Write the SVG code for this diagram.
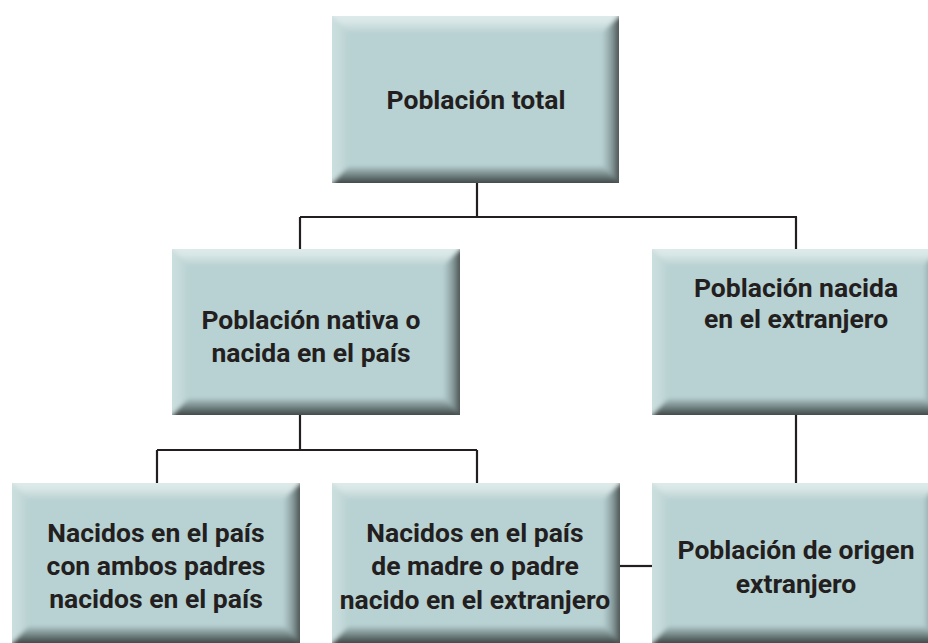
<svg xmlns="http://www.w3.org/2000/svg" width="928" height="643" viewBox="0 0 928 643">
<defs>
<linearGradient id="gT" x1="0" y1="0" x2="0" y2="1"><stop offset="0" stop-color="#e2eded"/><stop offset="0.5" stop-color="#d9e7e7"/><stop offset="1" stop-color="#bcd3d4"/></linearGradient>
<linearGradient id="gL" x1="0" y1="0" x2="1" y2="0"><stop offset="0" stop-color="#d0e1e1"/><stop offset="0.5" stop-color="#c8dcdc"/><stop offset="1" stop-color="#bad2d3"/></linearGradient>
<linearGradient id="gR" x1="0" y1="0" x2="1" y2="0"><stop offset="0" stop-color="#b4cdce"/><stop offset="0.4" stop-color="#8a9e9f"/><stop offset="0.76" stop-color="#4b5353"/><stop offset="1" stop-color="#4b5353"/></linearGradient>
<linearGradient id="gB" x1="0" y1="0" x2="0" y2="1"><stop offset="0" stop-color="#a9c0c1"/><stop offset="0.4" stop-color="#718282"/><stop offset="0.76" stop-color="#3f4545"/><stop offset="1" stop-color="#3f4545"/></linearGradient>
<filter id="soft" x="-5%" y="-5%" width="110%" height="110%"><feGaussianBlur stdDeviation="2.2"/></filter>
<clipPath id="c1"><rect x="332" y="16" width="287" height="167"/></clipPath>
<clipPath id="c2"><rect x="172" y="249" width="288" height="166"/></clipPath>
<clipPath id="c3"><rect x="652" y="249" width="288" height="166"/></clipPath>
<clipPath id="c4"><rect x="12" y="483" width="288" height="160"/></clipPath>
<clipPath id="c5"><rect x="332" y="483" width="288" height="160"/></clipPath>
<clipPath id="c6"><rect x="652" y="483" width="288" height="160"/></clipPath>
</defs>
<style>
.face{fill:#b8d1d2}
.bev{filter:url(#soft)}
.bt{fill:url(#gT)}
.bl{fill:url(#gL)}
.br{fill:url(#gR)}
.bb{fill:url(#gB)}
.lbl{font-family:Roboto,"Liberation Sans",sans-serif;font-weight:bold;font-size:26.5px;fill:#231f20;text-anchor:middle}
.con{stroke:#231f20;stroke-width:2.2;fill:none}
</style>
<rect width="928" height="643" fill="#ffffff"/>
<g id="connectors">
<path class="con" d="M477,183 V217 M300,217 H797 M300,217 V249 M796,217 V249"/>
<path class="con" d="M300,415 V450 M157,450 H477 M157,450 V483 M477,450 V483"/>
<path class="con" d="M796,415 V483"/>
<path class="con" d="M620,566 H652"/>
</g>
<g id="n-total">
<g clip-path="url(#c1)">
<rect class="face" x="332" y="16" width="287" height="167"/>
<g class="bev">
<polygon class="bt" points="327,11 624,11 603,32 348,32"/>
<polygon class="bl" points="327,11 348,32 348,167 327,188"/>
<polygon class="br" points="624,11 624,188 603,167 603,32"/>
<polygon class="bb" points="327,188 624,188 603,167 348,167"/>
</g>
</g>
<text class="lbl" x="476" y="109">Población total</text>
</g>
<g id="n-nativa">
<g clip-path="url(#c2)">
<rect class="face" x="172" y="249" width="288" height="166"/>
<g class="bev">
<polygon class="bt" points="167,244 465,244 444,265 188,265"/>
<polygon class="bl" points="167,244 188,265 188,399 167,420"/>
<polygon class="br" points="465,244 465,420 444,399 444,265"/>
<polygon class="bb" points="167,420 465,420 444,399 188,399"/>
</g>
</g>
<text class="lbl" x="311" y="329">Población nativa o</text>
<text class="lbl" x="311" y="362">nacida en el país</text>
</g>
<g id="n-extranjero">
<g clip-path="url(#c3)">
<rect class="face" x="652" y="249" width="288" height="166"/>
<g class="bev">
<polygon class="bt" points="647,244 945,244 924,265 668,265"/>
<polygon class="bl" points="647,244 668,265 668,399 647,420"/>
<polygon class="br" points="945,244 945,420 924,399 924,265"/>
<polygon class="bb" points="647,420 945,420 924,399 668,399"/>
</g>
</g>
<text class="lbl" x="796" y="297">Población nacida</text>
<text class="lbl" x="796" y="328">en el extranjero</text>
</g>
<g id="n-ambos">
<g clip-path="url(#c4)">
<rect class="face" x="12" y="483" width="288" height="160"/>
<g class="bev">
<polygon class="bt" points="7,478 305,478 284,499 28,499"/>
<polygon class="bl" points="7,478 28,499 28,627 7,648"/>
<polygon class="br" points="305,478 305,648 284,627 284,499"/>
<polygon class="bb" points="7,648 305,648 284,627 28,627"/>
</g>
</g>
<text class="lbl" x="156" y="542">Nacidos en el país</text>
<text class="lbl" x="156" y="575">con ambos padres</text>
<text class="lbl" x="156" y="608">nacidos en el país</text>
</g>
<g id="n-madre">
<g clip-path="url(#c5)">
<rect class="face" x="332" y="483" width="288" height="160"/>
<g class="bev">
<polygon class="bt" points="327,478 625,478 604,499 348,499"/>
<polygon class="bl" points="327,478 348,499 348,627 327,648"/>
<polygon class="br" points="625,478 625,648 604,627 604,499"/>
<polygon class="bb" points="327,648 625,648 604,627 348,627"/>
</g>
</g>
<text class="lbl" x="475" y="542">Nacidos en el país</text>
<text class="lbl" x="475" y="575">de madre o padre</text>
<text class="lbl" x="475" y="609">nacido en el extranjero</text>
</g>
<g id="n-origen">
<g clip-path="url(#c6)">
<rect class="face" x="652" y="483" width="288" height="160"/>
<g class="bev">
<polygon class="bt" points="647,478 945,478 924,499 668,499"/>
<polygon class="bl" points="647,478 668,499 668,627 647,648"/>
<polygon class="br" points="945,478 945,648 924,627 924,499"/>
<polygon class="bb" points="647,648 945,648 924,627 668,627"/>
</g>
</g>
<text class="lbl" x="796" y="559">Población de origen</text>
<text class="lbl" x="796" y="593">extranjero</text>
</g>
</svg>
